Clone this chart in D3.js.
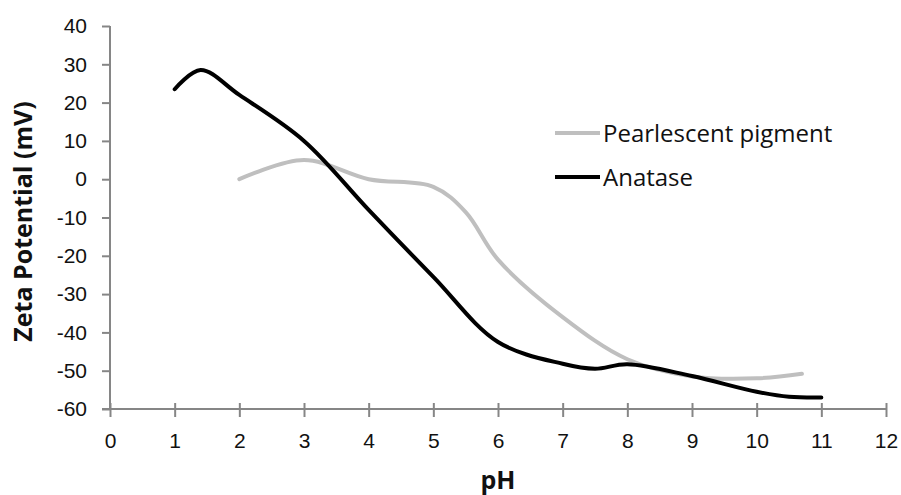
<!DOCTYPE html>
<html>
<head>
<meta charset="utf-8">
<script src="https://cdn.jsdelivr.net/npm/d3@7"></script>
<style>
  html, body { margin: 0; padding: 0; background: #fff; }
  svg { display: block; font-family: "Open Sans", "Liberation Sans", sans-serif; }
</style>
</head>
<body>
<svg id="chart" width="901" height="495"></svg>
<script>
// values
const xTicks = [0, 1, 2, 3, 4, 5, 6, 7, 8, 9, 10, 11, 12];
const yTicks = [-60, -50, -40, -30, -20, -10, 0, 10, 20, 30, 40];

const pearlPH   = [2, 3, 4, 5, 5.5, 6, 7, 8, 9, 10, 10.7];
const pearlZeta = [0, 5, 0, -2, -8.6, -21, -36, -47, -51.5, -52, -50.8];

const anatasePH   = [1, 1.4, 2, 3, 4, 5, 6, 7, 7.5, 8, 9, 10, 10.5, 11];
const anataseZeta = [23.5, 28.5, 22, 10, -8, -25.5, -42.5, -48.2, -49.5, -48.3, -51.4, -55.5, -56.8, -57];

const series = [
    { name: 'Pearlescent pigment', x: pearlPH, y: pearlZeta, color: '#bfbfbf' },
    { name: 'Anatase', x: anatasePH, y: anataseZeta, color: '#000000' }
];

const margin = { top: 26, right: 15, bottom: 86, left: 110 };
const width = 901, height = 495;

const svg = d3.select('#chart');

const x = d3.scaleLinear().domain([0, 12]).range([margin.left, width - margin.right]);
const y = d3.scaleLinear().domain([-60, 40]).range([height - margin.bottom, margin.top]);

const axisColor = '#868686';
const plain = d => String(d); // hyphen minus like the reference

// y axis
const yAxis = svg.append('g')
    .attr('transform', `translate(${margin.left},0)`)
    .call(d3.axisLeft(y).tickValues(yTicks).tickFormat(plain).tickSize(8).tickPadding(15));
yAxis.select('.domain').attr('stroke', axisColor).attr('stroke-width', 2)
    .attr('d', `M0,${y(40)}V${y(-60)}`);
yAxis.selectAll('.tick line').attr('stroke', axisColor).attr('stroke-width', 2);
yAxis.selectAll('.tick text').attr('font-size', '21px').attr('fill', '#111');

// x axis, ticks cross the line
const xAxis = svg.append('g')
    .attr('transform', `translate(0,${y(-60)})`)
    .call(d3.axisBottom(x).tickValues(xTicks).tickFormat(plain).tickSize(8).tickPadding(16));
xAxis.select('.domain').attr('stroke', axisColor).attr('stroke-width', 2)
    .attr('d', `M${x(0) - 8},0H${x(12)}`);
xAxis.selectAll('.tick line').attr('stroke', axisColor).attr('stroke-width', 2)
    .attr('y1', -6);
xAxis.selectAll('.tick text').attr('font-size', '21px').attr('fill', '#111');

// lines
const line = d3.line().curve(d3.curveCatmullRom.alpha(0.5));
series.forEach(s => {
    const pts = s.x.map((v, i) => [x(v), y(s.y[i])]);
    svg.append('path')
        .attr('d', line(pts))
        .attr('fill', 'none')
        .attr('stroke', s.color)
        .attr('stroke-width', 4)
        .attr('stroke-linecap', 'round')
        .attr('stroke-linejoin', 'round');
});

// legend
const legend = svg.append('g').attr('transform', 'translate(555,133)');
series.forEach((s, i) => {
    const g = legend.append('g').attr('transform', `translate(0,${i * 44})`);
    g.append('line').attr('x1', 0).attr('x2', 45).attr('y1', 0).attr('y2', 0)
        .attr('stroke', s.color).attr('stroke-width', 4);
    g.append('text').attr('x', 48).attr('y', 9)
        .attr('font-size', '24px').attr('fill', '#111').text(s.name);
});

// axis titles
svg.append('text')
    .attr('transform', `translate(32,${(y(40) + y(-60)) / 2 + 4}) rotate(-90)`)
    .attr('text-anchor', 'middle')
    .attr('font-size', '25px').attr('font-weight', 'bold').attr('fill', '#111')
    .text('Zeta Potential (mV)');

svg.append('text')
    .attr('x', (x(0) + x(12)) / 2)
    .attr('y', 489)
    .attr('text-anchor', 'middle')
    .attr('font-size', '25px').attr('font-weight', 'bold').attr('fill', '#111')
    .text('pH');
</script>
</body>
</html>
